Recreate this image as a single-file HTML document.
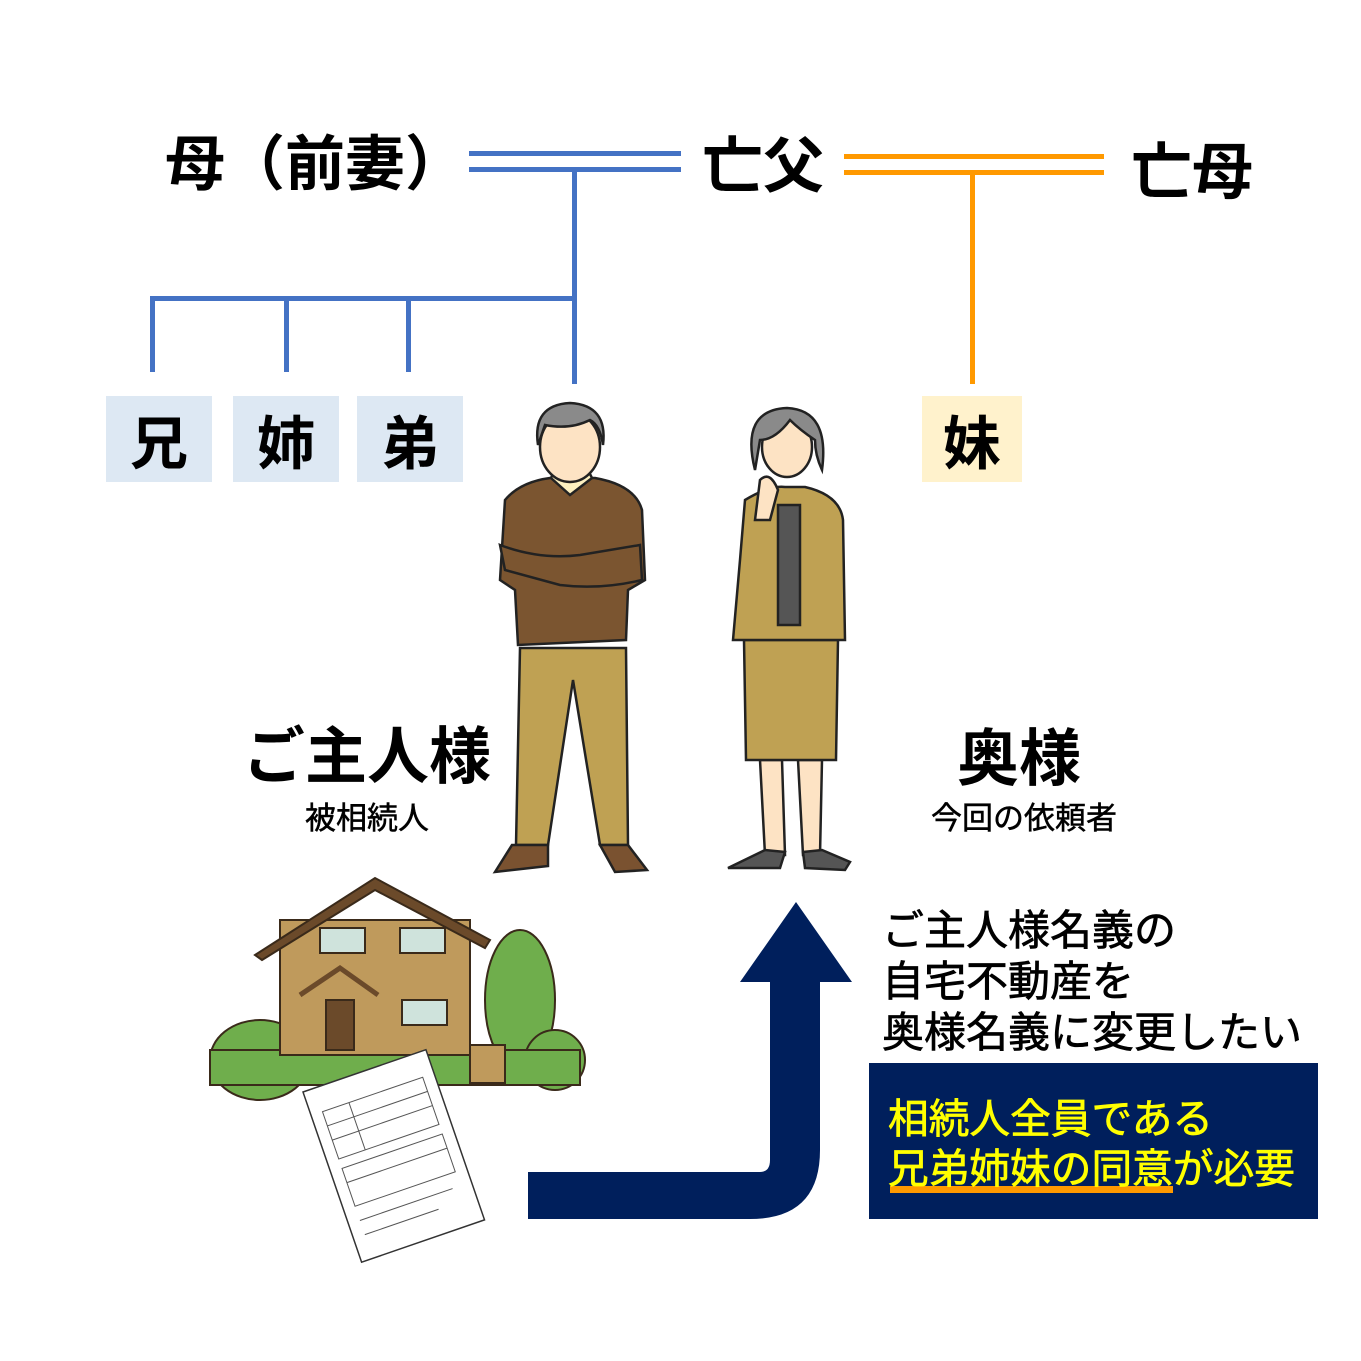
<!DOCTYPE html>
<html><head><meta charset="utf-8"><style>
body{margin:0;width:1361px;height:1361px;background:#fff;position:relative;overflow:hidden;font-family:"Liberation Sans","Noto Sans CJK JP",sans-serif;}
.t{position:absolute;white-space:nowrap;color:#000;font-weight:bold;line-height:1;}
.box{position:absolute;top:396px;height:86px;display:flex;align-items:center;justify-content:center;font-size:58px;font-weight:bold;}
</style></head><body>
<svg width="1361" height="1361" style="position:absolute;left:0;top:0">
<g fill="#4472c4">
<rect x="469" y="151" width="212" height="5"/><rect x="469" y="167" width="212" height="5"/>
<rect x="572" y="172" width="5" height="212"/>
<rect x="150" y="296" width="427" height="5"/>
<rect x="150" y="296" width="5" height="76"/><rect x="284" y="296" width="5" height="76"/><rect x="406" y="296" width="5" height="76"/>
</g>
<g fill="#ff9900">
<rect x="844" y="154" width="260" height="5"/><rect x="844" y="170" width="260" height="5"/>
<rect x="970" y="175" width="5" height="209"/>
</g>
<rect x="106" y="396" width="106" height="86" fill="#dde8f3"/>
<rect x="233" y="396" width="106" height="86" fill="#dde8f3"/>
<rect x="357" y="396" width="106" height="86" fill="#dde8f3"/>
<rect x="922" y="396" width="100" height="86" fill="#fff2cc"/>
<!-- man -->
<g stroke="#222" stroke-width="2.5">
<path d="M520 648 L626 648 L628 845 L600 845 L573 680 L548 845 L516 845 Z" fill="#bfa153"/>
<path d="M495 872 L512 845 L548 845 L548 866 Z" fill="#7a5230"/>
<path d="M600 845 L628 845 L647 870 L615 872 Z" fill="#7a5230"/>
<path d="M505 500 Q520 482 550 478 L595 478 Q635 485 642 510 L645 580 L628 590 L626 640 L518 645 L515 590 L500 580 Z" fill="#7b5530"/>
<path d="M500 545 Q540 560 580 555 L640 545 L642 580 Q600 590 560 585 L505 570 Z" fill="#7b5530"/>
<path d="M551 478 L570 495 L592 478 L588 470 L555 470 Z" fill="#fcf0c0"/>
<ellipse cx="570" cy="447" rx="30" ry="35" fill="#fde3c4"/>
<path d="M538 445 Q532 405 570 403 Q608 405 603 445 Q600 425 590 420 Q570 430 545 425 Z" fill="#8a8a8a"/>
</g>
<!-- woman -->
<g stroke="#222" stroke-width="2.5">
<path d="M760 760 L782 760 L785 855 L765 855 Z M798 760 L822 760 L820 855 L803 855 Z" fill="#fde3c4"/>
<path d="M728 868 L765 850 L785 852 L780 868 Z M803 852 L822 850 L850 862 L845 870 L805 868 Z" fill="#555"/>
<path d="M744 640 L838 640 L836 760 L746 760 Z" fill="#bfa153"/>
<path d="M745 500 Q770 485 785 487 L805 487 Q840 495 843 520 L845 640 L733 640 L740 560 Z" fill="#bfa153"/>
<rect x="778" y="505" width="22" height="120" fill="#555"/>
<ellipse cx="787" cy="447" rx="25" ry="30" fill="#fde3c4"/>
<path d="M755 470 Q740 410 787 408 Q830 410 822 470 Q815 455 815 440 Q800 430 790 420 Q775 440 760 440 Z" fill="#8a8a8a"/>
<path d="M760 480 Q770 470 778 490 L770 520 L755 520 Z" fill="#fde3c4"/>
</g>
<!-- house -->
<g stroke="#3a2a1a" stroke-width="2">
<ellipse cx="260" cy="1060" rx="50" ry="40" fill="#6fae4c"/>
<ellipse cx="520" cy="1000" rx="35" ry="70" fill="#6fae4c"/>
<ellipse cx="555" cy="1060" rx="30" ry="30" fill="#6fae4c"/>
<rect x="210" y="1050" width="370" height="35" fill="#6fae4c"/>
<rect x="280" y="920" width="190" height="135" fill="#bf9a5c"/>
<path d="M255 955 L375 878 L490 940 L485 948 L375 890 L262 960 Z" fill="#6b4a2a"/>
<rect x="320" y="928" width="45" height="25" fill="#cfe3dc"/><rect x="400" y="928" width="45" height="25" fill="#cfe3dc"/>
<rect x="402" y="1000" width="45" height="25" fill="#cfe3dc"/>
<rect x="326" y="1000" width="28" height="50" fill="#6b4a2a"/>
<path d="M300 995 L340 968 L378 995" fill="none" stroke-width="5" stroke="#6b4a2a"/>
<rect x="470" y="1045" width="35" height="38" fill="#bf9a5c"/>
</g>
<!-- document -->
<g transform="translate(303,1092) rotate(-19)">
<rect x="0" y="0" width="130" height="180" fill="#fff" stroke="#333" stroke-width="1.5"/>
<g stroke="#555" stroke-width="1" fill="none">
<rect x="12" y="25" width="106" height="50"/><rect x="12" y="85" width="106" height="40"/>
<line x1="12" y1="40" x2="118" y2="40"/><line x1="12" y1="55" x2="118" y2="55"/><line x1="12" y1="100" x2="118" y2="100"/>
<line x1="40" y1="25" x2="40" y2="75"/><line x1="12" y1="140" x2="110" y2="140"/><line x1="12" y1="155" x2="90" y2="155"/>
</g></g>
<!-- arrow -->
<path d="M528 1172 L760 1172 Q770 1172 770 1160 L770 982 L740 982 L796 902 L852 982 L820 982 L820 1150 Q820 1219 750 1219 L528 1219 Z" fill="#001f5c"/>
<rect x="869" y="1063" width="449" height="156" fill="#001f5c"/>
<rect x="890" y="1186" width="283" height="7" fill="#ff9900"/>
</svg>
<div class="t" style="left:165px;top:135px;font-size:60px">母（前妻）</div>
<div class="t" style="left:702px;top:136px;font-size:61px">亡父</div>
<div class="t" style="left:1131px;top:142px;font-size:61px">亡母</div>
<div class="box" style="left:106px;width:106px">兄</div>
<div class="box" style="left:233px;width:106px">姉</div>
<div class="box" style="left:357px;width:106px">弟</div>
<div class="box" style="left:922px;width:100px">妹</div>
<div class="t" style="left:243px;top:727px;font-size:62px">ご主人様</div>
<div class="t" style="left:305px;top:803px;font-size:31px;font-weight:normal;-webkit-text-stroke:0.5px #000">被相続人</div>
<div class="t" style="left:957px;top:729px;font-size:62px">奥様</div>
<div class="t" style="left:931px;top:803px;font-size:31px;font-weight:normal;-webkit-text-stroke:0.5px #000">今回の依頼者</div>
<div class="t" style="left:882px;top:905px;font-size:42px;line-height:51px;font-weight:normal;-webkit-text-stroke:0.7px #000">ご主人様名義の<br>自宅不動産を<br>奥様名義に変更したい</div>
<div class="t" style="left:888px;top:1094px;font-size:40.7px;line-height:50px;color:#ffff00;font-weight:normal;-webkit-text-stroke:0.7px #ffff00">相続人全員である<br>兄弟姉妹の同意が必要</div>
</body></html>
